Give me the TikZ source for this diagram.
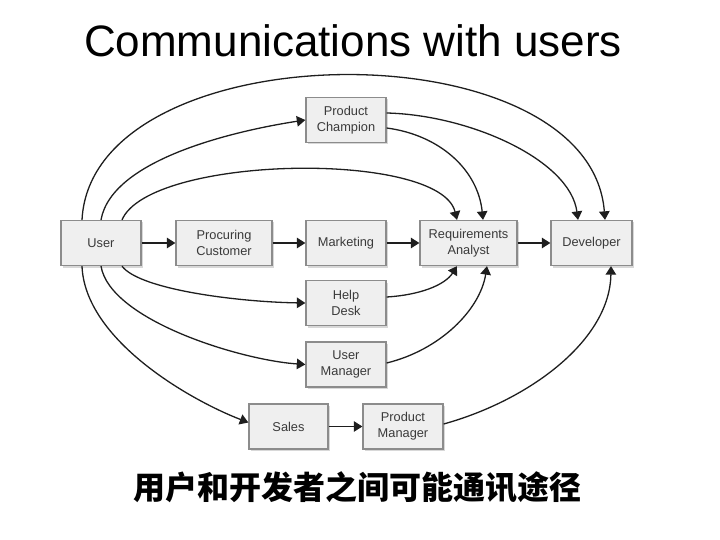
\documentclass[tikz,border=0pt]{standalone}
\usepackage{fontspec}
\setmainfont{Liberation Sans}
\newfontfamily\cjk{Noto Sans CJK SC}
\usetikzlibrary{arrows.meta,shadows}
\definecolor{boxfill}{HTML}{EFEFEF}
\definecolor{boxline}{HTML}{8C8C8C}
\definecolor{txt}{HTML}{3A3A3A}
\definecolor{arr}{HTML}{1E1E1E}
\begin{document}
\begin{tikzpicture}[x=1pt,y=-1pt,
  box/.style={draw=boxline, line width=1.3pt, fill=boxfill, minimum height=45pt,
    text=txt, font=\fontsize{12.8}{16}\selectfont, align=center, inner sep=0pt,
    drop shadow={shadow xshift=2pt, shadow yshift=-2pt, fill=black!30, opacity=0.5}},
  conn/.style={draw=arr, line width=1.3pt, -{Triangle[length=8.5pt,width=10.5pt]}},
]
\useasboundingbox (0,0) rectangle (720,540);

\node[font=\fontsize{44}{50}\selectfont, anchor=base] (title) at (353,57) {Communications with users};

\node[box, minimum width=80pt] (pc) at (346,120) {Product\\Champion};
\node[box, minimum width=80pt] (user) at (101,243) {User};
\node[box, minimum width=96pt] (proc) at (224,243) {Procuring\\Customer};
\node[box, minimum width=80pt] (mkt) at (346,243) {Marketing};
\node[box, minimum width=97pt] (ra) at (468.5,243) {Requirements\\Analyst};
\node[box, minimum width=81pt] (dev) at (591.5,243) {Developer};
\node[box, minimum width=80pt] (help) at (346,303) {Help\\Desk};
\node[box, minimum width=80pt] (um) at (346,364.5) {User\\Manager};
\node[box, minimum width=79pt] (sales) at (288.5,426.5) {Sales};
\node[box, minimum width=80pt] (pm) at (403,426.5) {Product\\Manager};

% straight
\draw[conn] (user) -- (proc);
\draw[conn] (proc) -- (mkt);
\draw[conn] (mkt) -- (ra);
\draw[conn] (ra) -- (dev);
\draw[conn, line width=0.9pt] (sales) -- (pm);

% top curves from User
\draw[conn] ([xshift=-19pt]user.north) .. controls (92,30) and (590,25) .. ([xshift=13.5pt]dev.north);
\draw[conn] (user.north) .. controls (112,158) and (240,130) .. (pc.west);
\draw[conn] ([xshift=21pt]user.north) .. controls (150,155) and (440,150) .. ([xshift=-11.5pt]ra.north);

% from Product Champion
\draw[conn] ([yshift=7pt]pc.east) .. controls (470,115) and (570,160) .. ([xshift=-13.5pt]dev.north);
\draw[conn] ([yshift=-8pt]pc.east) .. controls (440,135) and (478,170) .. ([xshift=14.5pt]ra.north);

% bottom curves from User
\draw[conn] ([xshift=21pt]user.south) .. controls (140,290) and (240,302) .. (help.west);
\draw[conn] (user.south) .. controls (110,320) and (240,360) .. (um.west);
\draw[conn] ([xshift=-19pt]user.south) .. controls (85,340) and (190,400) .. ([yshift=4pt]sales.west);

% into RA and Developer from below
\draw[conn] ([yshift=6pt]help.east) .. controls (420,295) and (445,285) .. ([xshift=-11.5pt]ra.south);
\draw[conn] ([yshift=1.5pt]um.east) .. controls (440,350) and (480,310) .. ([xshift=18.5pt]ra.south);
\draw[conn] ([yshift=2.5pt]pm.east) .. controls (530,400) and (610,340) .. ([xshift=19.5pt]dev.south);

\node[font={\fontsize{32}{36}\selectfont\cjk\bfseries}] (cn) at (357,487) {用户和开发者之间可能通讯途径};
\end{tikzpicture}
\end{document}
